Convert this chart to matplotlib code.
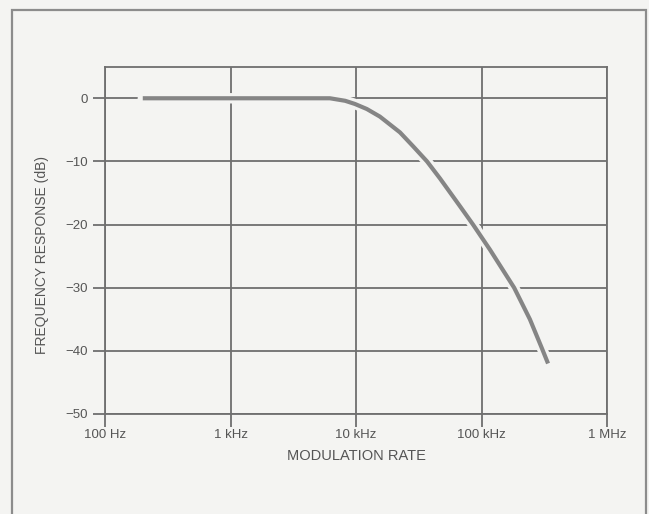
import matplotlib
matplotlib.use("Agg")
import matplotlib.pyplot as plt
from matplotlib.patches import Rectangle

# Data
freq_hz = [200, 1000, 3000, 6200, 8200, 9800, 12200, 15500, 22400, 28500,
           36800, 46700, 67400, 85600, 117000, 182000, 243000, 303000, 339000]
response_db = [0.0, 0.0, 0.0, 0.0, -0.4, -0.9, -1.7, -2.9, -5.4, -7.6,
               -10.0, -12.7, -17.1, -20.0, -24.0, -30.0, -35.0, -39.6, -42.0]

x_ticks = [1e2, 1e3, 1e4, 1e5, 1e6]
x_tick_labels = ["100 Hz", "1 kHz", "10 kHz", "100 kHz", "1 MHz"]
y_ticks = [-50, -40, -30, -20, -10, 0]
y_tick_labels = ["\u221250", "\u221240", "\u221230", "\u221220", "\u221210", "0"]

plt.rcParams['font.family'] = ['Liberation Sans', 'DejaVu Sans']

W, H = 649, 514
bg = '#f4f4f2'
grid_c = '#6f6f6f'
curve_c = '#858585'
text_c = '#555555'

fig = plt.figure(figsize=(W / 100, H / 100), dpi=100, facecolor=bg)

# outer frame of the figure panel
fig.patches.append(Rectangle((12 / W, -0.1), (646 - 12) / W, (514 - 9.5) / H + 0.1,
                             transform=fig.transFigure, fill=False,
                             edgecolor='#8c8c8c', linewidth=1.6))

ax_l, ax_r, ax_t, ax_b = 105, 607, 66.7, 414
ax = fig.add_axes([ax_l / W, 1 - ax_b / H, (ax_r - ax_l) / W, (ax_b - ax_t) / H])
ax.set_facecolor(bg)
ax.set_xscale('log')
ax.set_xlim(1e2, 1e6)
ax.set_ylim(-50, 5)

ax.set_xticks(x_ticks)
ax.set_xticklabels(x_tick_labels)
ax.minorticks_off()
ax.set_yticks(y_ticks)
ax.set_yticklabels(y_tick_labels)

ax.grid(True, which='major', color=grid_c, linewidth=1.3, zorder=1)
ax.set_axisbelow(True)
for s in ax.spines.values():
    s.set_color(grid_c)
    s.set_linewidth(1.3)

ax.tick_params(axis='both', which='major', direction='out', length=9,
               width=1.3, color=grid_c, labelcolor=text_c, labelsize=9.5)
ax.tick_params(axis='x', pad=1.5)
ax.tick_params(axis='y', pad=3)

# halo under the curve, interrupting the grid lines
ax.plot(freq_hz, response_db, color=bg, linewidth=7.5, solid_capstyle='round',
        solid_joinstyle='round', zorder=3)
ax.plot(freq_hz, response_db, color=curve_c, linewidth=3.0, solid_capstyle='butt',
        solid_joinstyle='round', zorder=4)

axh = ax_b - ax_t
ax.set_xlabel("MODULATION RATE", fontsize=10.5, color=text_c)
ax.xaxis.label.set_va('center')
ax.xaxis.set_label_coords(0.5, ((H - 456) - (H - ax_b)) / axh)

ax.set_ylabel("FREQUENCY RESPONSE (dB)", fontsize=10, color=text_c)
ax.yaxis.label.set_va('center')
ax.yaxis.set_label_coords((42 - ax_l) / (ax_r - ax_l), ((H - 255) - (H - ax_b)) / axh)

fig.savefig("out.png", dpi=100, facecolor=bg)
